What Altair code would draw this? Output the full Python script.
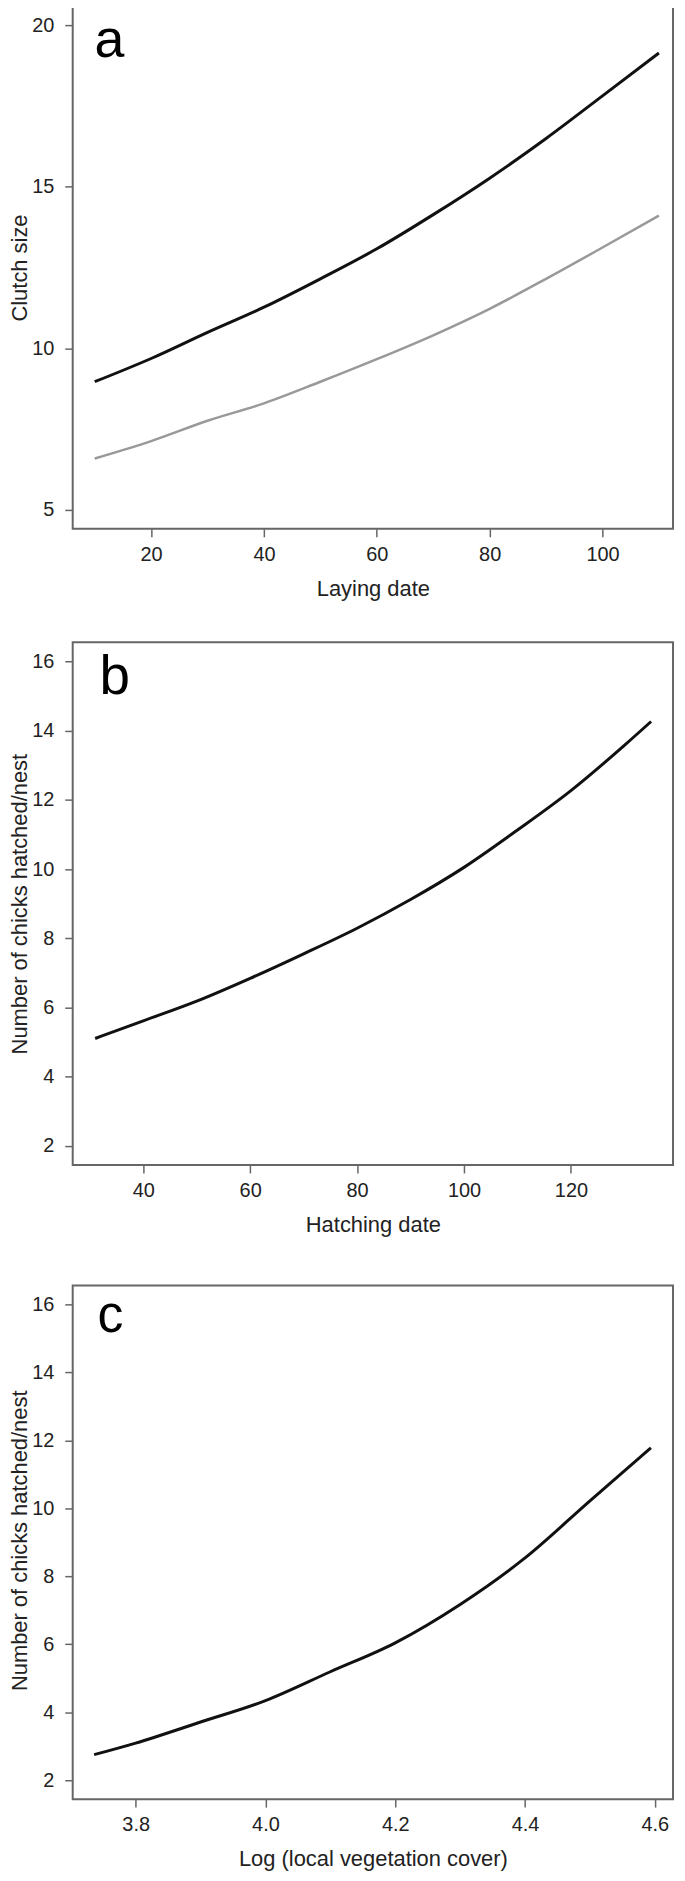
import altair as alt
import pandas as pd

# ---- data ----
lay_date = [10, 20, 30, 40, 50, 60, 70, 80, 90, 100, 110]
clutch_black = [8.96, 9.68, 10.49, 11.27, 12.15, 13.08, 14.14, 15.27, 16.50, 17.82, 19.15]
clutch_gray = [6.58, 7.12, 7.75, 8.29, 8.96, 9.66, 10.40, 11.22, 12.15, 13.12, 14.11]

hatch_date = [31, 40, 50, 60, 70, 80, 90, 100, 110, 120, 130, 135]
chicks_hatch = [5.10, 5.61, 6.18, 6.84, 7.55, 8.29, 9.12, 10.05, 11.13, 12.27, 13.58, 14.27]

veg_cover = [3.736, 3.8, 3.9, 4.0, 4.1, 4.2, 4.3, 4.4, 4.5, 4.594]
chicks_veg = [2.75, 3.09, 3.71, 4.34, 5.19, 6.04, 7.17, 8.54, 10.22, 11.78]

ticks_a_x = [20, 40, 60, 80, 100]
ticks_a_y = [5, 10, 15, 20]
ticks_b_x = [40, 60, 80, 100, 120]
ticks_b_y = [2, 4, 6, 8, 10, 12, 14, 16]
ticks_c_x = [3.8, 4.0, 4.2, 4.4, 4.6]
ticks_c_y = [2, 4, 6, 8, 10, 12, 14, 16]

W = 603
TXT = "#222222"
GRID = "#666666"
FONT = "Liberation Sans"


def xaxis(values, title, fmt=None):
    kw = dict(values=values, title=title, grid=False, domain=False,
              tickSize=8, tickColor=GRID, tickWidth=1.5,
              labelFontSize=20, labelColor=TXT, labelPadding=23.5,
              labelBaseline="alphabetic", labelFlush=False,
              titleFontSize=22, titleColor=TXT, titleFontWeight="normal",
              titleBaseline="alphabetic", titleY=67)
    if fmt:
        kw["format"] = fmt
    return alt.Axis(**kw)


def yaxis(values, title, ty=None):
    kw = dict(values=values, title=title, grid=False, domain=False,
              tickSize=8, tickColor=GRID, tickWidth=1.5,
              labelFontSize=20, labelColor=TXT, labelPadding=11,
              labelFlush=False,
              titleFontSize=22, titleColor=TXT, titleFontWeight="normal",
              titleBaseline="alphabetic", titleX=-46.5)
    if ty is not None:
        kw["titleY"] = ty
    return alt.Axis(**kw)


def letter(t, x, y, size):
    return alt.Chart(pd.DataFrame({"t": [t]})).mark_text(
        align="left", baseline="alphabetic", fontSize=size, color="#000000", font=FONT
    ).encode(text="t:N", x=alt.value(x), y=alt.value(y))


def box(top, h):
    return alt.Chart(pd.DataFrame({"b": [0]})).mark_rect(
        filled=False, stroke=GRID, strokeWidth=2
    ).encode(x=alt.value(0), x2=alt.value(W), y=alt.value(top), y2=alt.value(h))


# ---- panel a ----
df_a = pd.DataFrame({
    "date": lay_date * 2,
    "size": clutch_black + clutch_gray,
    "series": ["black"] * len(lay_date) + ["gray"] * len(lay_date),
})
HA = 525
line_a = alt.Chart(df_a).mark_line(interpolate="monotone").encode(
    x=alt.X("date:Q", scale=alt.Scale(domain=[6.1, 112.5], nice=False, zero=False),
            axis=xaxis(ticks_a_x, "Laying date")),
    y=alt.Y("size:Q", scale=alt.Scale(domain=[4.4, 20.6], nice=False, zero=False),
            axis=yaxis(ticks_a_y, "Clutch size")),
    color=alt.Color("series:N", scale=alt.Scale(domain=["black", "gray"], range=["#111111", "#999999"]),
                    legend=None),
    strokeWidth=alt.StrokeWidth("series:N", scale=alt.Scale(domain=["black", "gray"], range=[3, 2.5]),
                                legend=None),
    detail="series:N",
)
pa = alt.layer(box(0, HA), line_a, letter("a", 22, 51, 54)).properties(width=W, height=HA)

# ---- panel b ----
df_b = pd.DataFrame({"date": hatch_date, "n": chicks_hatch})
HB = 525
line_b = alt.Chart(df_b).mark_line(strokeWidth=3, color="#111111", interpolate="monotone").encode(
    x=alt.X("date:Q", scale=alt.Scale(domain=[26.8, 139.1], nice=False, zero=False),
            axis=xaxis(ticks_b_x, "Hatching date")),
    y=alt.Y("n:Q", scale=alt.Scale(domain=[1.44, 16.56], nice=False, zero=False),
            axis=yaxis(ticks_b_y, "Number of chicks hatched/nest")),
)
pb = alt.layer(box(0, HB), line_b, letter("b", 27, 52, 55)).properties(width=W, height=HB)

# ---- panel c (box starts 7px below the panel top) ----
df_c = pd.DataFrame({"veg": veg_cover, "n": chicks_veg})
HC = 523
line_c = alt.Chart(df_c).mark_line(strokeWidth=3, color="#111111", interpolate="monotone").encode(
    x=alt.X("veg:Q", scale=alt.Scale(domain=[3.703, 4.628], nice=False, zero=False),
            axis=xaxis(ticks_c_x, "Log (local vegetation cover)", fmt=".1f")),
    y=alt.Y("n:Q", scale=alt.Scale(domain=[1.44, 16.765], nice=False, zero=False),
            axis=yaxis(ticks_c_y, "Number of chicks hatched/nest", ty=263)),
)
pc = alt.layer(box(7, HC), line_c, letter("c", 25, 54, 52)).properties(width=W, height=HC)

chart = alt.vconcat(pa, pb, pc, spacing=114, bounds="flush").properties(
    padding={"left": 0, "top": -8, "right": 2, "bottom": 0}
).configure(font=FONT).configure_view(stroke="transparent")

chart.save("out.html", embed_options={"renderer": "svg", "actions": False})
